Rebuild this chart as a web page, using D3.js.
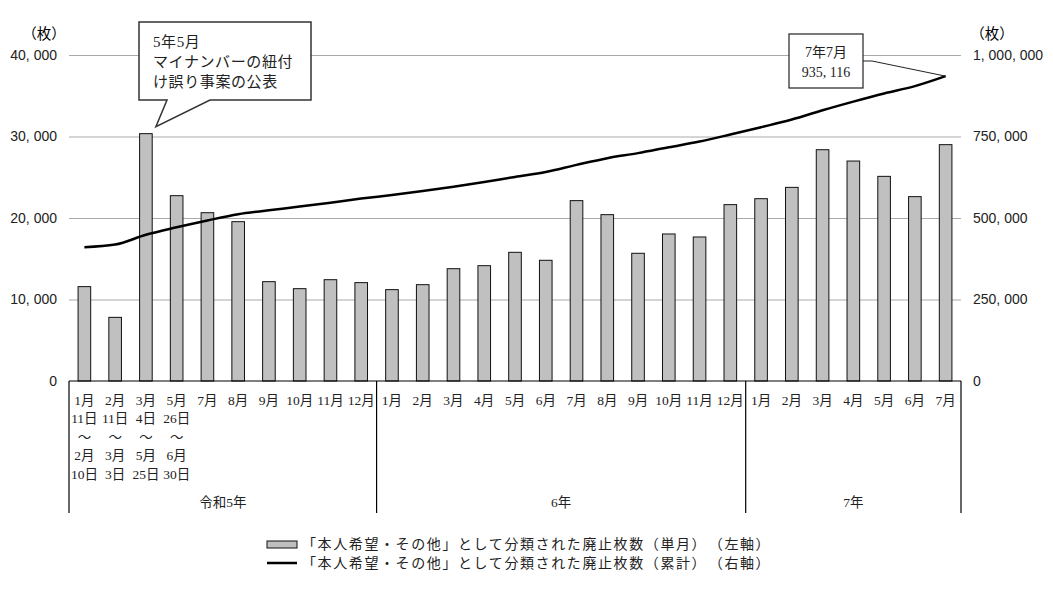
<!DOCTYPE html>
<html>
<head>
<meta charset="utf-8">
<script src="https://cdn.jsdelivr.net/npm/d3@7"></script>
<style>
  body { margin: 0; background: #fff; }
  svg { font-family: "Liberation Serif", "Noto Sans CJK JP", serif; }
</style>
</head>
<body>
<svg width="1053" height="592"></svg>
<script>
// Data
var months = ['1月','2月','3月','5月','7月','8月','9月','10月','11月','12月',
              '1月','2月','3月','4月','5月','6月','7月','8月','9月','10月','11月','12月',
              '1月','2月','3月','4月','5月','6月','7月'];
// extra lines below the first four month labels (period covered)
var periodLines = [
    ['11日','～','2月','10日'],
    ['11日','～','3月','3日'],
    ['4日','～','5月','25日'],
    ['26日','～','6月','30日']
];
var yearLabels = ['令和5年', '6年', '7年'];
var yearMonthCounts = [10, 12, 7];

var monthly = [11580, 7810, 30350, 22740, 20650, 19550, 12190, 11330, 12430, 12070,
               11210, 11820, 13780, 14150, 15790, 14810, 22130, 20410, 15670, 18040, 17670, 21640,
               22370, 23760, 28380, 26990, 25110, 22620, 29000];
var cumulative = [410500, 418500, 448500, 471500, 492500, 511500, 523500, 535000, 547000, 559500,
                  570500, 582500, 596000, 610500, 626000, 641000, 663000, 683500, 699000, 717000,
                  734500, 756000, 778500, 802000, 830500, 857000, 882000, 904500, 935116];

var leftTicks = [0, 10000, 20000, 30000, 40000];
var rightTicks = [0, 250000, 500000, 750000, 1000000];
var legendLabels = ['「本人希望・その他」として分類された廃止枚数（単月）　（左軸）',
                    '「本人希望・その他」として分類された廃止枚数（累計）　（右軸）'];

var svg = d3.select('svg');

var plot = {l: 69, r: 961, t: 55, b: 381};

var fmt = function(v) { return d3.format(',')(v).replace(/,/g, ', '); };

var xScale = d3.scaleBand()
    .domain(d3.range(months.length))
    .range([plot.l, plot.r])
    .paddingInner(0.59)
    .paddingOuter(0.295);
var yLeft = d3.scaleLinear().domain([0, 40000]).range([plot.b, plot.t]);
var yRight = d3.scaleLinear().domain([0, 1000000]).range([plot.b, plot.t]);

// gridlines
svg.append('g')
    .attr('transform', 'translate(' + plot.l + ',0)')
    .call(d3.axisLeft(yLeft).tickValues(leftTicks.slice(1)).tickSize(-(plot.r - plot.l)).tickFormat(''))
    .call(function(g) {
        g.select('.domain').remove();
        g.selectAll('line').attr('stroke', '#aaa');
    });

// left axis labels
svg.append('g')
    .attr('transform', 'translate(' + plot.l + ',0)')
    .call(d3.axisLeft(yLeft).tickValues(leftTicks).tickSize(0).tickPadding(12).tickFormat(fmt))
    .call(function(g) {
        g.select('.domain').remove();
        g.selectAll('text').attr('font-size', 14).attr('fill', '#222').attr('font-family', null);
    });

// right axis labels
svg.append('g')
    .attr('transform', 'translate(' + plot.r + ',0)')
    .call(d3.axisRight(yRight).tickValues(rightTicks).tickSize(0).tickPadding(12).tickFormat(fmt))
    .call(function(g) {
        g.select('.domain').remove();
        g.selectAll('text').attr('font-size', 14).attr('fill', '#222').attr('font-family', null);
    });

svg.append('text').attr('x', 44).attr('y', 34).attr('text-anchor', 'middle')
    .attr('dominant-baseline', 'central').attr('font-size', 14.5).text('（枚）');
svg.append('text').attr('x', 992).attr('y', 34).attr('text-anchor', 'middle')
    .attr('dominant-baseline', 'central').attr('font-size', 14.5).text('（枚）');

// bars
svg.append('g').selectAll('rect')
    .data(monthly)
    .join('rect')
    .attr('x', function(d, i) { return xScale(i); })
    .attr('y', function(d) { return yLeft(d); })
    .attr('width', xScale.bandwidth())
    .attr('height', function(d) { return yLeft(0) - yLeft(d); })
    .attr('fill', '#c0c0c0')
    .attr('stroke', '#111')
    .attr('stroke-width', 1);

// cumulative line
var line = d3.line()
    .x(function(d, i) { return xScale(i) + xScale.bandwidth() / 2; })
    .y(function(d) { return yRight(d); })
    .curve(d3.curveMonotoneX);

svg.append('path')
    .datum(cumulative)
    .attr('d', line)
    .attr('fill', 'none')
    .attr('stroke', '#000')
    .attr('stroke-width', 2.5);

// category table under the axis
var step = xScale.step();
var tableBottom = 513;
svg.append('line')
    .attr('x1', plot.l).attr('x2', plot.r).attr('y1', plot.b).attr('y2', plot.b)
    .attr('stroke', '#000').attr('stroke-width', 1.2);

var boundaries = [0];
yearMonthCounts.forEach(function(c, i) { boundaries.push(boundaries[i] + c); });

svg.append('g').selectAll('line')
    .data(boundaries)
    .join('line')
    .attr('x1', function(d) { return plot.l + step * d; })
    .attr('x2', function(d) { return plot.l + step * d; })
    .attr('y1', plot.b)
    .attr('y2', tableBottom)
    .attr('stroke', '#000')
    .attr('stroke-width', 1.2);

var catLabels = svg.append('g').attr('font-size', 13.5).attr('fill', '#222').attr('text-anchor', 'middle');
months.forEach(function(m, i) {
    var cx = xScale(i) + xScale.bandwidth() / 2;
    var lines = [m].concat(periodLines[i] || []);
    lines.forEach(function(t, j) {
        catLabels.append('text')
            .attr('x', cx)
            .attr('y', 400 + j * 18.5)
            .attr('dominant-baseline', 'central')
            .text(t);
    });
});

svg.append('g').selectAll('text')
    .data(yearLabels)
    .join('text')
    .attr('x', function(d, i) { return plot.l + step * (boundaries[i] + boundaries[i + 1]) / 2; })
    .attr('y', 502)
    .attr('text-anchor', 'middle')
    .attr('dominant-baseline', 'central')
    .attr('font-size', 13.5)
    .attr('fill', '#222')
    .text(function(d) { return d; });

// annotation 1: 5年5月
var a1 = svg.append('g');
var tip1 = [xScale(2) + xScale.bandwidth() / 2 + 10, yLeft(monthly[2]) - 7];
a1.append('path')
    .attr('d', 'M139,22 H311 V100 H210 L' + tip1[0] + ',' + tip1[1] + ' L167,100 H139 Z')
    .attr('fill', '#fff').attr('stroke', '#333').attr('stroke-width', 1.5);
a1.append('g').attr('font-size', 15).attr('fill', '#222')
    .selectAll('text')
    .data(['5年5月', 'マイナンバーの紐付', 'け誤り事案の公表'])
    .join('text')
    .attr('x', 153)
    .attr('y', function(d, i) { return 42 + i * 20; })
    .attr('dominant-baseline', 'central')
    .attr('letter-spacing', 0.6)
    .text(function(d) { return d; });

// annotation 2: 7年7月
var last = cumulative.length - 1;
var tip2 = [xScale(last) + xScale.bandwidth() / 2, yRight(cumulative[last])];
var a2 = svg.append('g');
a2.append('path')
    .attr('d', 'M863,61 H872 L' + tip2[0] + ',' + tip2[1])
    .attr('fill', 'none').attr('stroke', '#222').attr('stroke-width', 1);
a2.append('rect')
    .attr('x', 789).attr('y', 34).attr('width', 74).attr('height', 54)
    .attr('fill', '#fff').attr('stroke', '#222').attr('stroke-width', 1.2);
a2.append('g').attr('font-size', 14).attr('fill', '#222').attr('text-anchor', 'middle')
    .selectAll('text')
    .data(['7年7月', fmt(cumulative[last])])
    .join('text')
    .attr('x', 826)
    .attr('y', function(d, i) { return 52 + i * 20; })
    .attr('dominant-baseline', 'central')
    .text(function(d) { return d; });

// legend
var legend = svg.append('g').attr('font-size', 14).attr('fill', '#222');
legend.append('rect')
    .attr('x', 267).attr('y', 541).attr('width', 30).attr('height', 7)
    .attr('fill', '#c0c0c0').attr('stroke', '#111');
legend.append('line')
    .attr('x1', 267).attr('x2', 297).attr('y1', 563).attr('y2', 563)
    .attr('stroke', '#000').attr('stroke-width', 2.5);
legend.selectAll('text')
    .data(legendLabels)
    .join('text')
    .attr('x', 302)
    .attr('y', function(d, i) { return 544 + i * 19.5; })
    .attr('dominant-baseline', 'central')
    .attr('letter-spacing', 1.6)
    .text(function(d) { return d; });
</script>
</body>
</html>
